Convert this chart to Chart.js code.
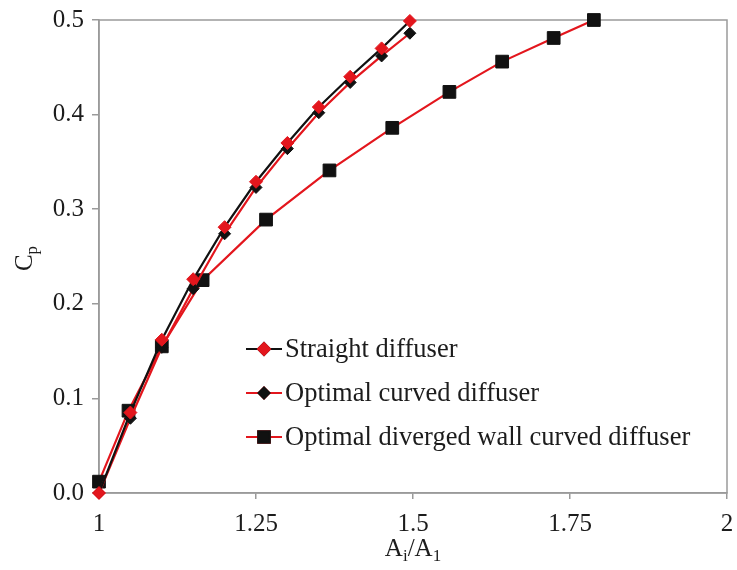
<!DOCTYPE html>
<html>
<head>
<meta charset="utf-8">
<script src="https://cdn.jsdelivr.net/npm/chart.js@4/dist/chart.umd.min.js"></script>
<style>
  html, body { margin: 0; padding: 0; background: #fff; }
  #wrap { width: 737px; height: 570px; }
</style>
</head>
<body>
<div id="wrap"><canvas id="cp"></canvas></div>
<script>
// Area ratio Ai/A1 and pressure recovery coefficient Cp for each diffuser
const seriesNames = ['Straight diffuser', 'Optimal curved diffuser', 'Optimal diverged wall curved diffuser'];

const areaStraight = [1, 1.05, 1.1, 1.15, 1.2, 1.25, 1.3, 1.35, 1.4, 1.45, 1.495];
const cpStraight   = [0, 0.085, 0.162, 0.226, 0.281, 0.329, 0.370, 0.408, 0.440, 0.470, 0.499];

const areaCurved = [1, 1.05, 1.1, 1.15, 1.2, 1.25, 1.3, 1.35, 1.4, 1.45, 1.495];
const cpCurved   = [0, 0.079, 0.154, 0.216, 0.274, 0.323, 0.364, 0.402, 0.434, 0.462, 0.486];

const areaDiverged = [1.0, 1.047, 1.10, 1.165, 1.266, 1.367, 1.467, 1.558, 1.642, 1.724, 1.788];
const cpDiverged   = [0.012, 0.087, 0.155, 0.225, 0.289, 0.341, 0.386, 0.424, 0.456, 0.481, 0.500];

const xTickValues = [1, 1.25, 1.5, 1.75, 2];
const xTickLabels = ['1', '1.25', '1.5', '1.75', '2'];
const yTickValues = [0, 0.1, 0.2, 0.3, 0.4, 0.5];
const yTickLabels = ['0.0', '0.1', '0.2', '0.3', '0.4', '0.5'];

const RED = '#e3161d';
const BLACK = '#111111';
const AXIS = '#9a9a9a';
const TEXT = '#1c1c1c';
const FONT = "'Liberation Serif', 'Times New Roman', serif";

const pairs = (xs, ys) => xs.map((x, i) => ({ x, y: ys[i] }));

// Box around the plotting area
const frame = {
  id: 'frame',
  beforeDatasetsDraw(chart) {
    const { ctx, chartArea: a } = chart;
    ctx.save();
    ctx.strokeStyle = AXIS;
    ctx.lineWidth = 1.5;
    ctx.strokeRect(a.left, a.top, a.right - a.left, a.bottom - a.top);
    ctx.restore();
  }
};

// Axis titles with subscripts
function drawSubText(ctx, parts, x, y, align) {
  const big = '25px ' + FONT, small = '17px ' + FONT;
  let total = 0;
  parts.forEach(p => { ctx.font = p.sub ? small : big; total += ctx.measureText(p.t).width; });
  let cx = align === 'center' ? x - total / 2 : x;
  parts.forEach(p => {
    ctx.font = p.sub ? small : big;
    ctx.fillText(p.t, cx, p.sub ? y + 5 : y);
    cx += ctx.measureText(p.t).width;
  });
}
const axisTitles = {
  id: 'axisTitles',
  afterDraw(chart) {
    const { ctx, chartArea: a } = chart;
    ctx.save();
    ctx.fillStyle = TEXT;
    ctx.textBaseline = 'alphabetic';
    ctx.textAlign = 'left';
    drawSubText(ctx, [{ t: 'A' }, { t: 'i', sub: true }, { t: '/A' }, { t: '1', sub: true }],
      (a.left + a.right) / 2, 556, 'center');
    ctx.translate(32, (a.top + a.bottom) / 2 + 2);
    ctx.rotate(-Math.PI / 2);
    drawSubText(ctx, [{ t: 'C' }, { t: 'p', sub: true }], 0, 0, 'center');
    ctx.restore();
  }
};

// Legend placed inside the plot: sample line with its marker, then the name
const insideLegend = {
  id: 'insideLegend',
  afterDraw(chart) {
    const { ctx, chartArea: a } = chart;
    const x0 = a.left + 147, lineLen = 36, gap = 44;
    ctx.save();
    chart.data.datasets.forEach((ds, i) => {
      const y = a.top + 329 + i * gap;
      ctx.strokeStyle = ds.borderColor;
      ctx.lineWidth = ds.borderWidth;
      ctx.beginPath();
      ctx.moveTo(x0, y);
      ctx.lineTo(x0 + lineLen, y);
      ctx.stroke();
      Chart.helpers.drawPoint(ctx, {
        pointStyle: ds.pointStyle,
        radius: ds.pointRadius * 0.9,
        borderWidth: 1
      }, x0 + lineLen / 2, y);
      ctx.fillStyle = ds.pointBackgroundColor;
      ctx.strokeStyle = ds.pointBorderColor;
      ctx.fill();
      ctx.stroke();
      ctx.fillStyle = TEXT;
      ctx.font = '26.5px ' + FONT;
      ctx.textBaseline = 'middle';
      ctx.textAlign = 'left';
      ctx.fillText(ds.label, x0 + lineLen + 3, y + 1);
    });
    ctx.restore();
  }
};

new Chart(document.getElementById('cp'), {
  type: 'scatter',
  data: {
    datasets: [
      {
        label: seriesNames[0],
        data: pairs(areaStraight, cpStraight),
        showLine: true,
        borderColor: BLACK,
        borderWidth: 2.2,
        pointStyle: 'rectRot',
        pointRadius: 6.5,
        pointBackgroundColor: RED,
        pointBorderColor: RED,
        pointBorderWidth: 1
      },
      {
        label: seriesNames[1],
        data: pairs(areaCurved, cpCurved),
        showLine: true,
        borderColor: RED,
        borderWidth: 2.2,
        pointStyle: 'rectRot',
        pointRadius: 6,
        pointBackgroundColor: BLACK,
        pointBorderColor: BLACK,
        pointBorderWidth: 1
      },
      {
        label: seriesNames[2],
        data: pairs(areaDiverged, cpDiverged),
        showLine: true,
        borderColor: RED,
        borderWidth: 2.2,
        pointStyle: 'rect',
        pointRadius: 9,
        pointBackgroundColor: BLACK,
        pointBorderColor: BLACK,
        pointBorderWidth: 1
      }
    ]
  },
  options: {
    responsive: true,
    maintainAspectRatio: false,
    animation: false,
    clip: false,
    layout: { padding: { top: 20, right: 9, left: 0, bottom: 0 } },
    plugins: {
      legend: { display: false },
      tooltip: { enabled: false }
    },
    scales: {
      x: {
        type: 'linear',
        min: 1,
        max: 2,
        afterBuildTicks: s => { s.ticks = xTickValues.map(v => ({ value: v })); },
        afterFit: s => { s.height = 77; s.paddingRight = 0; s.paddingLeft = 0; },
        ticks: {
          callback: v => xTickLabels[xTickValues.indexOf(v)],
          font: { family: FONT, size: 25 },
          color: TEXT,
          padding: 10,
          maxRotation: 0
        },
        grid: { drawOnChartArea: false, tickLength: 6, color: AXIS, lineWidth: 1.5 },
        border: { display: true, color: AXIS, width: 1.5 },
        title: { display: false }
      },
      y: {
        type: 'linear',
        min: 0,
        max: 0.5,
        afterBuildTicks: s => { s.ticks = yTickValues.map(v => ({ value: v })); },
        afterFit: s => { s.width = 99; s.paddingTop = 0; s.paddingBottom = 0; },
        ticks: {
          callback: v => yTickLabels[yTickValues.findIndex(t => Math.abs(t - v) < 1e-9)],
          font: { family: FONT, size: 25 },
          color: TEXT,
          padding: 8
        },
        grid: { drawOnChartArea: false, tickLength: 7, color: AXIS, lineWidth: 1.5 },
        border: { display: true, color: AXIS, width: 1.5 },
        title: { display: false }
      }
    }
  },
  plugins: [frame, axisTitles, insideLegend]
});
</script>
</body>
</html>
